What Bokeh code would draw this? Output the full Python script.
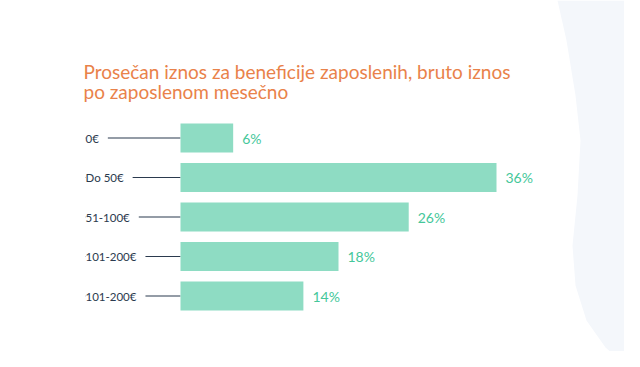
from bokeh.plotting import figure
from bokeh.models import Range1d, ColumnDataSource, Label
from bokeh.core.properties import value
from bokeh.embed import file_html
from bokeh.resources import INLINE

# ---- data ----
categories = ["0€", "Do 50€", "51-100€", "101-200€", "101-200€"]
percents = [6, 36, 26, 18, 14]
pct_labels = ["6%", "36%", "26%", "18%", "14%"]
title_lines = ["Prosečan iznos za beneficije zaposlenih, bruto iznos",
               "po zaposlenom mesečno"]

# ---- layout helpers (figure pixel -> data) ----
W, H = 624, 351
PX_PER_PCT = 316 / 36.0
X0_PX = 180.0
ROW0_PX = 137.5
ROW_STEP = 39.5

def xd(px):
    return (px - X0_PX) / PX_PER_PCT

def yd(py):
    return (py - ROW0_PX) / ROW_STEP

p = figure(width=W, height=H, output_backend="svg", toolbar_location=None,
           x_range=Range1d(xd(0), xd(W)), y_range=Range1d(yd(H), yd(0)),
           min_border=0, outline_line_color=None)
p.axis.visible = False
p.grid.visible = False
p.background_fill_color = "white"
p.border_fill_color = "white"

# decorative background shape on the right
shape_pts = [(557, 0), (566, 40), (575, 95), (580, 140), (577, 195), (572, 245),
             (575, 285), (586, 320), (605, 347), (628, 367), (660, 367), (660, 0)]
p.patch([xd(a) for a, b in shape_pts], [yd(b) for a, b in shape_pts],
        fill_color="#F4F7FB", line_color=None)

rows = list(range(len(categories)))
src = ColumnDataSource(dict(y=rows, v=percents, cat=categories, lab=pct_labels,
                            zero=[0] * len(rows), lx=[xd(85)] * len(rows)))

# connector lines
p.segment(x0="lx", y0="y", x1="zero", y1="y", source=src,
          line_color="#2B3A4E", line_width=1.2)

# category labels with white background hiding line start
p.text(x="lx", y="y", text="cat", source=src, text_font=value("Lato"),
       text_font_size="11.5px", text_color="#2B3A4E", text_baseline="middle",
       text_align="left", background_fill_color="white", padding=[0, 9, 0, 0])

# bars
p.hbar(y="y", left="zero", right="v", height=29 / ROW_STEP, source=src,
       fill_color="#8EDCC3", line_color=None)

# value labels
p.text(x="v", y="y", text="lab", source=src, text_font=value("Lato"),
       text_font_size="14px", text_color="#45C79A", text_baseline="middle",
       text_align="left", x_offset=9)

# title
for i, t in enumerate(title_lines):
    p.add_layout(Label(x=83, y=H - 71 - i * 20, x_units="screen", y_units="screen",
                       text=t, text_font="Lato", text_font_size="19px",
                       text_color="#E9824A", text_baseline="alphabetic"))

open("out.html", "w").write(file_html(p, INLINE))
